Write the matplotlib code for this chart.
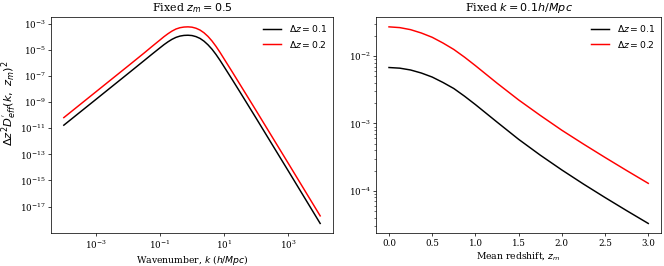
import numpy as np
import matplotlib
matplotlib.use("Agg")
import matplotlib.pyplot as plt
from matplotlib.ticker import NullLocator

plt.rcParams['font.family'] = 'serif'
plt.rcParams['font.serif'] = ['DejaVu Serif']
plt.rcParams['mathtext.fontset'] = 'dejavusans'
plt.rcParams['xtick.labelsize'] = 9.5
plt.rcParams['ytick.labelsize'] = 9.5
plt.rcParams['xtick.major.pad'] = 2.5
plt.rcParams['ytick.major.pad'] = 2.5

# Left panel: fixed z_m = 0.5
k = [1e-4, 3.16e-4, 1e-3, 3.16e-3, 1e-2, 3.16e-2, 5.62e-2, 0.1, 0.133, 0.178, 0.237,
     0.316, 0.422, 0.562, 0.750, 1.0, 1.33, 1.78, 2.37, 3.16, 4.22, 5.62, 7.50, 10,
     17.8, 31.6, 100, 316, 1000, 3162, 10000]
d_k_01 = [1.70e-11, 1.64e-10, 1.58e-9, 1.53e-8, 1.48e-7, 1.45e-6, 4.57e-6, 1.41e-5,
          2.45e-5, 4.07e-5, 6.31e-5, 8.91e-5, 1.12e-4, 1.26e-4, 1.30e-4, 1.23e-4,
          1.02e-4, 7.41e-5, 4.57e-5, 2.40e-5, 1.10e-5, 4.37e-6, 1.55e-6, 5.13e-7,
          5.50e-8, 5.75e-9, 5.89e-11, 5.75e-13, 5.62e-15, 5.37e-17, 5.13e-19]
d_k_02 = [6.46e-11, 6.24e-10, 6.03e-9, 5.82e-8, 5.62e-7, 5.50e-6, 1.78e-5, 5.62e-5,
          1.00e-4, 1.70e-4, 2.69e-4, 3.89e-4, 4.90e-4, 5.50e-4, 5.69e-4, 5.37e-4,
          4.47e-4, 3.24e-4, 2.00e-4, 1.05e-4, 4.68e-5, 1.82e-5, 6.31e-6, 2.04e-6,
          2.14e-7, 2.19e-8, 2.24e-10, 2.19e-12, 2.14e-14, 2.04e-16, 1.95e-18]

# Right panel: fixed k = 0.1 h/Mpc
zm = [0.0, 0.125, 0.25, 0.375, 0.5, 0.625, 0.75, 0.875, 1.0, 1.25, 1.5, 1.75, 2.0,
      2.25, 2.5, 2.75, 3.0]
d_z_01 = [6.79e-3, 6.64e-3, 6.24e-3, 5.62e-3, 4.90e-3, 4.07e-3, 3.31e-3, 2.54e-3,
          1.91e-3, 1.05e-3, 5.82e-4, 3.39e-4, 2.04e-4, 1.26e-4, 7.94e-5, 5.07e-5,
          3.27e-5]
d_z_02 = [2.73e-2, 2.66e-2, 2.48e-2, 2.21e-2, 1.91e-2, 1.57e-2, 1.26e-2, 9.66e-3,
          7.24e-3, 3.98e-3, 2.24e-3, 1.32e-3, 7.94e-4, 4.95e-4, 3.13e-4, 2.00e-4,
          1.29e-4]

dpi = 66.4
fig = plt.figure(figsize=(664 / dpi, 266 / dpi), dpi=dpi)
ax1 = fig.add_axes([0.0768, 0.123, 0.4247, 0.813])
ax2 = fig.add_axes([0.5663, 0.123, 0.4295, 0.813])

ax1.loglog(k, d_k_01, color='black', lw=1.6, label=r'$\Delta z = 0.1$')
ax1.loglog(k, d_k_02, color='red', lw=1.6, label=r'$\Delta z = 0.2$')
ax1.set_xticks([1e-3, 1e-1, 1e1, 1e3])
ax1.set_yticks([1e-3, 1e-5, 1e-7, 1e-9, 1e-11, 1e-13, 1e-15, 1e-17])
ax1.xaxis.set_minor_locator(NullLocator())
ax1.yaxis.set_minor_locator(NullLocator())
ax1.set_xlabel(r'Wavenumber, $k$ ($h/Mpc$)', labelpad=2)
ax1.set_ylabel(r"$\Delta z^2 D^{'}_{eff}(k,\ z_m)^2$", fontsize=12.5)
ax1.yaxis.set_label_coords(-0.115, 0.6)
ax1.set_title(r'Fixed $z_m = 0.5$')
ax1.legend(frameon=False, loc='upper right', borderaxespad=0.25)

ax2.semilogy(zm, d_z_01, color='black', lw=1.6, label=r'$\Delta z = 0.1$')
ax2.semilogy(zm, d_z_02, color='red', lw=1.6, label=r'$\Delta z = 0.2$')
ax2.set_xlabel(r'Mean redshift, $z_m$', labelpad=2)
ax2.set_title(r'Fixed $k = 0.1 h/Mpc$')
ax2.legend(frameon=False, loc='upper right', borderaxespad=0.25)

fig.savefig('out.png', dpi=dpi)
